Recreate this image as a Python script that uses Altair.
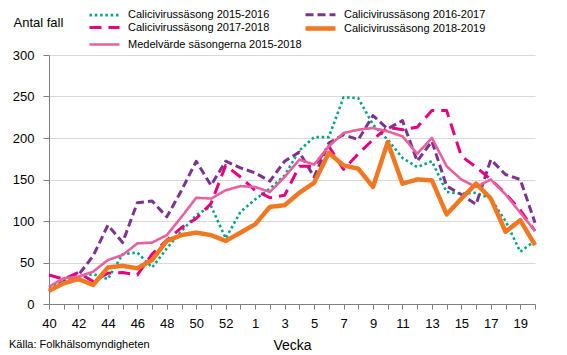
import altair as alt
import pandas as pd

weeks = ["40", "41", "42", "43", "44", "45", "46", "47", "48", "49", "50", "51", "52", "53",
         "1", "2", "3", "4", "5", "6", "7", "8", "9", "10", "11", "12", "13", "14", "15", "16",
         "17", "18", "19", "20"]

series_names = [
    "Calicivirussäsong 2015-2016",
    "Calicivirussäsong 2016-2017",
    "Calicivirussäsong 2017-2018",
    "Calicivirussäsong 2018-2019",
    "Medelvärde säsongerna 2015-2018",
]

s2015 = [20, 28, 33, 36, 30, 60, 62, 44, 67, 88, 107, 118, 79, 111, 126, 139, 155, 185, 201, 201,
         249, 248, 216, 198, 176, 165, 172, 135, 133, 134, 127, 100, 63, 76]
s2016 = [15, 27, 35, 58, 95, 74, 122, 124, 105, 137, 172, 143, 172, 164, 158, 148, 172, 183, 153, 194,
         204, 198, 227, 211, 221, 172, 196, 142, 132, 120, 174, 156, 150, 98]
s2017 = [35, 30, 38, 27, 37, 38, 35, 60, 77, 92, 103, 121, 167, 153, 137, 128, 131, 166, 166, 190,
         162, 181, 198, 213, 210, 213, 233, 233, 178, 165, 150, 133, 113, 88]
s2018 = [16, 25, 30, 23, 44, 46, 43, 53, 76, 83, 86, 83, 76, 86, 96, 117, 119, 134, 146, 182,
         167, 163, 141, 195, 145, 150, 149, 108, 127, 145, 127, 87, 101, 71]
smean = [21, 31, 33, 39, 53, 59, 73, 74, 83, 105, 128, 127, 137, 142, 141, 135, 153, 174, 168, 190,
         206, 210, 212, 208, 202, 181, 200, 166, 150, 141, 150, 132, 110, 88]

y_ticks = [0, 50, 100, 150, 200, 250, 300]
y_title = "Antal fall"
x_title = "Vecka"
source_text = "Källa:  Folkhälsomyndigheten"

colors = ["#00A384", "#7B3590", "#E6007E", "#F07822", "#E8619F"]
dashes = [[2.5, 2.8], [8, 4], [12, 7], [1, 0], [1, 0]]
widths = [2.6, 3, 3, 4.5, 2.6]

# draw order: orange last (on top)
draw_order = [(series_names[0], s2015), (series_names[1], s2016), (series_names[2], s2017),
              (series_names[4], smean), (series_names[3], s2018)]
rows = []
for name, vals in draw_order:
    for i, (w, v) in enumerate(zip(weeks, vals)):
        rows.append({"idx": i, "week": w, "value": v, "series": name})
df = pd.DataFrame(rows)

label_array = "[" + ",".join("'%s'" % w for w in weeks) + "]"
label_expr = "datum.value % 2 == 0 ? " + label_array + "[datum.value] : ''"

FONT = "Liberation Sans"

lines = alt.Chart(df).mark_line(strokeJoin="round").encode(
    x=alt.X("idx:Q",
            scale=alt.Scale(domain=[0, len(weeks) - 1], nice=False, zero=False),
            axis=alt.Axis(values=list(range(len(weeks))), labelExpr=label_expr, grid=False,
                          title=x_title, titleFontSize=14, titleFontWeight="normal",
                          titleFont=FONT, titleColor="#000", titleY=45, titleBaseline="alphabetic",
                          labelFont=FONT, labelFontSize=13, labelColor="#000", labelPadding=8,
                          tickSize=5, tickColor="#808080", domainColor="#808080",
                          labelOverlap=False, labelFlush=False)),
    y=alt.Y("value:Q",
            scale=alt.Scale(domain=[0, 300], nice=False),
            axis=alt.Axis(values=y_ticks, title=y_title, titleAngle=0, titleX=-36, titleY=-29,
                          titleAlign="left", titleBaseline="alphabetic", titleFont=FONT,
                          titleFontSize=13, titleFontWeight="normal", titleColor="#000",
                          labelFont=FONT, labelFontSize=13, labelColor="#000", labelPadding=9,
                          tickSize=6, tickColor="#808080", domainColor="#808080",
                          gridColor="#d9d9d9", gridWidth=1)),
    color=alt.Color("series:N", scale=alt.Scale(domain=series_names, range=colors),
                    legend=alt.Legend(title=None, orient="none", legendX=38, legendY=-47,
                                      direction="horizontal",
                                      columns=2, columnPadding=-6, rowPadding=-3,
                                      symbolType="M-3,0L3,0", symbolSize=100,
                                      symbolOffset=10,
                                      labelFont=FONT, labelFontSize=11, labelColor="#000",
                                      labelOffset=16, labelLimit=300)),
    strokeDash=alt.StrokeDash("series:N", scale=alt.Scale(domain=series_names, range=dashes), legend=None),
    strokeWidth=alt.StrokeWidth("series:N", scale=alt.Scale(type="ordinal", domain=series_names, range=widths), legend=None),
    detail="series:N",
)

src = alt.Chart(pd.DataFrame({"t": [source_text]})).mark_text(
    align="left", baseline="alphabetic", font=FONT, fontSize=11, color="#000"
).encode(text="t:N", x=alt.value(-40), y=alt.value(293))

chart = alt.layer(lines, src).properties(
    width=486, height=249,
    autosize=alt.AutoSizeParams(type="none"),
    padding={"left": 41, "top": 47, "right": 24, "bottom": 51},
).configure_view(stroke=None)

chart.save("out.html", embed_options={"renderer": "svg", "actions": False})
